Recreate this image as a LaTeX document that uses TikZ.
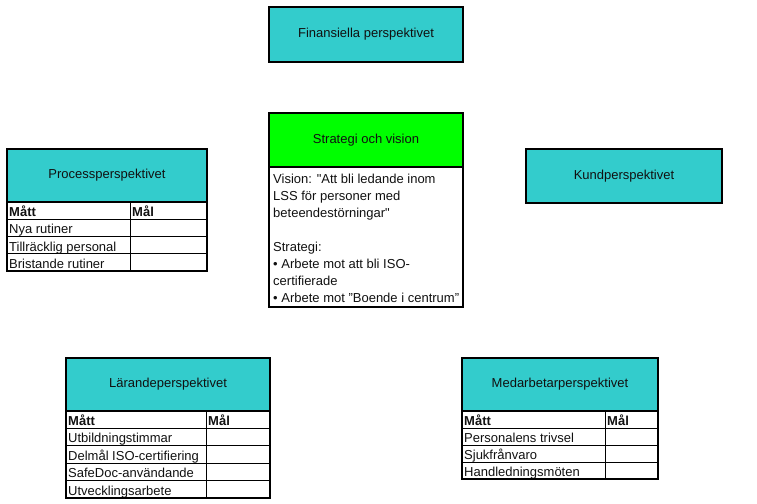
\documentclass[tikz,border=0pt]{standalone}
\usepackage{fontspec}
\setmainfont{Liberation Sans}
\definecolor{tealbox}{HTML}{33CCCC}
\definecolor{greenbox}{HTML}{00FF00}
\definecolor{txt}{HTML}{111111}
\tikzset{
  base/.style={font=\fontsize{13}{15}\selectfont, text=txt},
  hdrbox/.style={base, draw=black, line width=2pt, fill=tealbox, anchor=north west, inner sep=0pt, outer sep=0pt},
  celltxt/.style={base, anchor=base west, inner sep=0pt},
  boldtxt/.style={celltxt, font=\fontsize{13}{15}\selectfont\bfseries},
  grid/.style={draw=black, line width=1pt},
  outer/.style={draw=black, line width=2pt}
}
\begin{document}
\begin{tikzpicture}[x=1pt,y=-1pt]
\useasboundingbox[fill=white] (0,0) rectangle (757,503);

% Finansiella
\node[hdrbox, minimum width=194pt, minimum height=55pt] (fin) at (269,7) {Finansiella perspektivet};

% Kund
\node[hdrbox, minimum width=196pt, minimum height=54pt] (kund) at (526,149) {Kundperspektivet};

% Strategi och vision
\node[hdrbox, fill=greenbox, minimum width=194pt, minimum height=54pt] (strat) at (269,113) {Strategi och vision};
\draw[outer, fill=white] (269,167) rectangle (463,307);
\node[base, anchor=north west, align=left, inner sep=0pt, font=\fontsize{13}{17}\selectfont] (stratbody) at (273,173.5)
{Vision: \textquotedbl Att bli ledande inom\\LSS för personer med\\beteendestörningar\textquotedbl\\[17pt]Strategi:\\• Arbete mot att bli ISO-\\certifierade\\• Arbete mot ”Boende i centrum”};
\draw[outer] (269,113) rectangle (463,307);

% Processperspektivet
\node[hdrbox, minimum width=200pt, minimum height=53pt] (proc) at (7,149) {Processperspektivet};
\foreach \i in {0,...,3}{
  \draw[grid] (7,202+17.25*\i) rectangle (130,219.25+17.25*\i);
  \draw[grid] (130,202+17.25*\i) rectangle (207,219.25+17.25*\i);
}
\node[boldtxt] (procm) at (9,216.5) {Mått};
\node[boldtxt] (procg) at (132,216.5) {Mål};
\node[celltxt] (proc1) at (9,233.8) {Nya rutiner};
\node[celltxt] (proc2) at (9,251) {Tillräcklig personal};
\node[celltxt] (proc3) at (9,268.2) {Bristande rutiner};
\draw[outer] (7,149) rectangle (207,271);

% Lärandeperspektivet
\node[hdrbox, minimum width=204pt, minimum height=53pt] (lar) at (66,358) {Lärandeperspektivet};
\foreach \i in {0,...,4}{
  \draw[grid] (66,411+17.4*\i) rectangle (206,428.4+17.4*\i);
  \draw[grid] (206,411+17.4*\i) rectangle (270,428.4+17.4*\i);
}
\node[boldtxt] (larm) at (68,425.5) {Mått};
\node[boldtxt] (larg) at (208,425.5) {Mål};
\node[celltxt] (lar1) at (68,442.9) {Utbildningstimmar};
\node[celltxt] (lar2) at (68,460.3) {Delmål ISO-certifiering};
\node[celltxt] (lar3) at (68,477.7) {SafeDoc-användande};
\node[celltxt] (lar4) at (68,495.1) {Utvecklingsarbete};
\draw[outer] (66,358) rectangle (270,498);

% Medarbetarperspektivet
\node[hdrbox, minimum width=196pt, minimum height=53pt] (med) at (462,358) {Medarbetarperspektivet};
\foreach \i in {0,...,3}{
  \draw[grid] (462,411+17*\i) rectangle (605,428+17*\i);
  \draw[grid] (605,411+17*\i) rectangle (658,428+17*\i);
}
\node[boldtxt] (medm) at (464,425) {Mått};
\node[boldtxt] (medg) at (607,425) {Mål};
\node[celltxt] (med1) at (464,442) {Personalens trivsel};
\node[celltxt] (med2) at (464,459) {Sjukfrånvaro};
\node[celltxt] (med3) at (464,476) {Handledningsmöten};
\draw[outer] (462,358) rectangle (658,479);
\end{tikzpicture}
\end{document}
